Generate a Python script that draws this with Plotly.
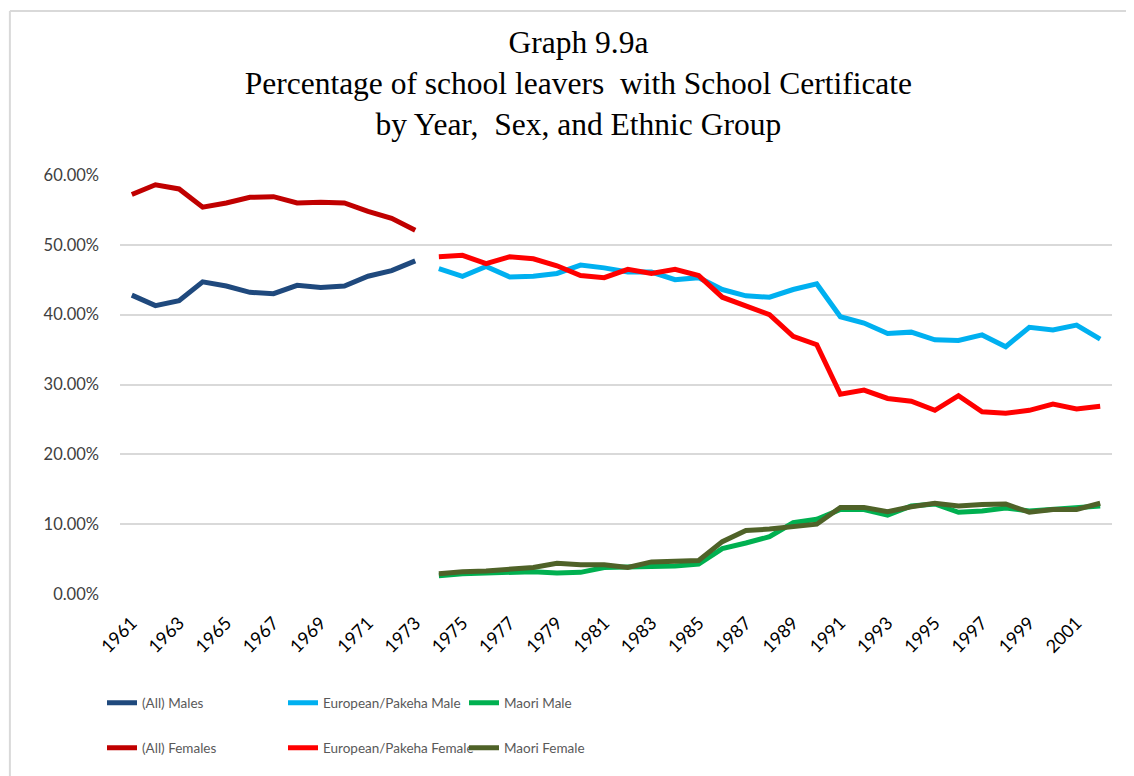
import plotly.graph_objects as go

# years
years_all = list(range(1961, 1974))
years_eth = list(range(1974, 2003))

# (All) series, 1961-1973
all_males = [42.8, 41.3, 42.0, 44.7, 44.1, 43.2, 43.0, 44.2, 43.9, 44.1, 45.5, 46.3, 47.7]
all_females = [57.2, 58.6, 58.0, 55.4, 56.0, 56.8, 56.9, 56.0, 56.1, 56.0, 54.8, 53.8, 52.1]

# by ethnic group, 1974-2002
euro_male = [46.6, 45.5, 46.9, 45.4, 45.5, 45.9, 47.1, 46.7, 46.1, 46.1, 45.0, 45.3,
             43.6, 42.7, 42.5, 43.6, 44.4, 39.7, 38.8, 37.3, 37.5, 36.4, 36.3, 37.1,
             35.4, 38.2, 37.8, 38.5, 36.5]
euro_female = [48.3, 48.5, 47.3, 48.3, 48.0, 47.0, 45.6, 45.3, 46.5, 45.9, 46.5, 45.6,
               42.5, 41.2, 40.0, 36.9, 35.7, 28.6, 29.2, 28.0, 27.6, 26.3, 28.4, 26.1,
               25.9, 26.3, 27.2, 26.5, 26.9]
maori_male = [2.6, 2.9, 3.0, 3.1, 3.2, 3.0, 3.1, 3.8, 3.9, 4.0, 4.0, 4.3,
              6.5, 7.3, 8.2, 10.2, 10.7, 12.1, 12.1, 11.3, 12.6, 12.9, 11.7, 11.9,
              12.3, 11.9, 12.1, 12.3, 12.6]
maori_female = [2.9, 3.2, 3.3, 3.5, 3.8, 4.4, 4.2, 4.2, 3.8, 4.6, 4.7, 4.8,
                7.5, 9.1, 9.3, 9.6, 10.0, 12.4, 12.4, 11.8, 12.5, 13.0, 12.6, 12.8,
                12.9, 11.7, 12.1, 12.1, 13.0]

series = [
    ("(All) Males", years_all, all_males, "#1F497D", "legend"),
    ("European/Pakeha Male", years_eth, euro_male, "#00B0F0", "legend"),
    ("Maori Male", years_eth, maori_male, "#00B050", "legend"),
    ("(All) Females", years_all, all_females, "#C00000", "legend2"),
    ("European/Pakeha Female", years_eth, euro_female, "#FF0000", "legend2"),
    ("Maori Female", years_eth, maori_female, "#4F6228", "legend2"),
]

fig = go.Figure()
for name, xs, ys, color, leg in series:
    fig.add_trace(go.Scatter(
        x=xs, y=[v / 100 for v in ys], name=name, mode="lines",
        line=dict(color=color, width=5), legend=leg,
    ))

legend_font = dict(family="Lato, sans-serif", size=13.5, color="#595959")
legend_common = dict(orientation="h", xref="container", yref="container",
                     x=94 / 1134, xanchor="left", yanchor="middle",
                     entrywidth=136, font=legend_font, itemwidth=30,
                     bgcolor="rgba(0,0,0,0)", traceorder="normal")

fig.update_layout(
    width=1134, height=776,
    paper_bgcolor="white", plot_bgcolor="white",
    margin=dict(l=112, r=30, t=167, b=190),
    title=dict(
        text="Graph 9.9a<br>Percentage of school leavers  with School Certificate<br>by Year,  Sex, and Ethnic Group",
        font=dict(family="Liberation Serif, Times New Roman, serif", size=31.5, color="#000000"),
        x=0.503, xanchor="center", y=0.942, yanchor="top",
    ),
    xaxis=dict(
        range=[1960.5, 2002.5], tickmode="linear", tick0=1961, dtick=2,
        tickangle=-45, showgrid=False, zeroline=False, showline=False,
        tickfont=dict(family="Lato, sans-serif", size=18, color="#000000"),
        ticklabelstandoff=14,
    ),
    yaxis=dict(
        range=[0, 0.6], dtick=0.1, tickformat=".2%",
        showgrid=True, gridcolor="#D9D9D9", gridwidth=1.5, zeroline=False,
        tickfont=dict(family="Lato, sans-serif", size=16.5, color="#404040"),
        ticklabelstandoff=20,
    ),
    legend=dict(y=1 - 695 / 776, **legend_common),
    legend2=dict(y=1 - 740 / 776, **legend_common),
    shapes=[
        dict(type="line", xref="paper", yref="paper", x0=-0.111, x1=1.1, y0=1.3914, y1=1.3914,
             line=dict(color="#D9D9D9", width=2)),
        dict(type="line", xref="paper", yref="paper", x0=-0.111, x1=-0.111, y0=1.3914, y1=-0.45,
             line=dict(color="#D9D9D9", width=2)),
    ],
)

fig.write_html("out.html")
